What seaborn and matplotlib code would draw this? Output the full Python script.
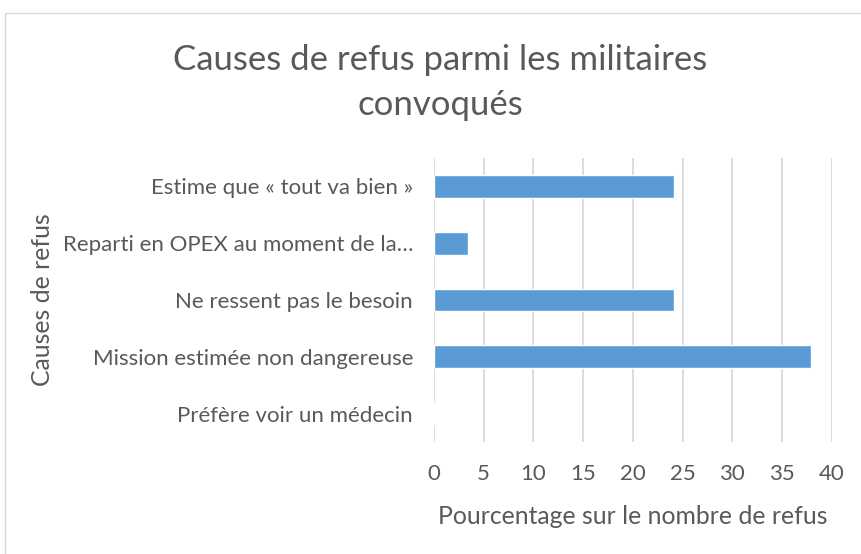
import matplotlib
matplotlib.use("Agg")
import matplotlib.pyplot as plt
import seaborn as sns
import pandas as pd
from matplotlib.patches import Rectangle

causes = [
    "Estime que « tout va bien »",
    "Reparti en OPEX au moment de la…",
    "Ne ressent pas le besoin",
    "Mission estimée non dangereuse",
    "Préfère voir un médecin",
]
pourcentages = [24.14, 3.45, 24.14, 37.93, 0.0]
ticks_x = [0, 5, 10, 15, 20, 25, 30, 35, 40]

df = pd.DataFrame({"cause": causes, "pct": pourcentages})

sns.set_theme(style="white")
plt.rcParams["font.family"] = ["Lato", "DejaVu Sans"]
gris = "#595959"

fig = plt.figure(figsize=(8.61, 5.54), dpi=100)
ax = fig.add_axes([0.504, 0.202, 0.462, 0.513])

sns.barplot(data=df, x="pct", y="cause", color="#5b9bd5", width=0.4,
            saturation=1, ax=ax)

ax.set_xlim(0, 40)
ax.set_xticks(ticks_x)
ax.xaxis.grid(True, color="#d9d9d9", linewidth=1.3)
ax.set_axisbelow(True)
for s in ax.spines.values():
    s.set_visible(False)
ax.tick_params(axis="both", length=0, labelsize=16, colors=gris)
ax.tick_params(axis="x", pad=16)
ax.tick_params(axis="y", pad=15)
ax.set_xlabel("Pourcentage sur le nombre de refus", fontsize=17.8, color=gris, labelpad=15)
ax.set_ylabel("Causes de refus", fontsize=17.8, color=gris)
ax.yaxis.set_label_coords(-0.955, 0.5)

fig.suptitle("Causes de refus parmi les militaires\nconvoqués", x=0.511, y=0.92,
             fontsize=25, color=gris, linespacing=1.5)

fig.patches.append(Rectangle((5 / 861, -0.01), 1.0, 1 - 13 / 554 + 0.01,
                             transform=fig.transFigure, fill=False,
                             edgecolor="#d9d9d9", linewidth=1))

fig.savefig("out.png", dpi=100, facecolor="white")
